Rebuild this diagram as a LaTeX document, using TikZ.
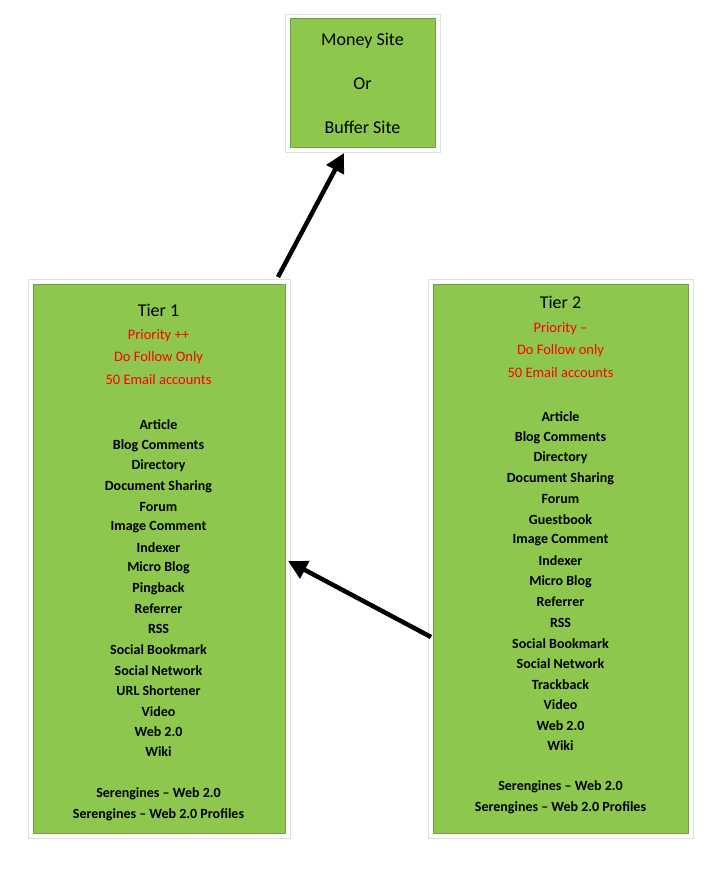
\documentclass[tikz,border=0pt]{standalone}
\usepackage{fontspec}
\setmainfont{Carlito}
\usetikzlibrary{arrows.meta}
\definecolor{boxgreen}{HTML}{8DC74E}
\definecolor{edgegreen}{HTML}{6FA33A}
\definecolor{txtred}{HTML}{FF0000}
\tikzset{
  tierbox/.style={draw=edgegreen,line width=1pt,fill=boxgreen},
  frame/.style={draw=gray!25,line width=0.6pt,fill=white},
  item/.style={font=\fontsize{14}{16}\selectfont\bfseries,inner sep=0pt},
  head/.style={font=\fontsize{18}{20}\selectfont,inner sep=0pt},
  note/.style={font=\fontsize{14.5}{16}\selectfont,text=txtred,inner sep=0pt},
  link/.style={line width=4.5pt,-{Triangle[length=19pt,width=19pt]}}
}
\begin{document}
\begin{tikzpicture}[x=1pt,y=-1pt]
        \useasboundingbox[fill=white] (0,0) rectangle (713,872);
        %! --- Money site ---
        \draw[frame] (285,14) rectangle (440,152);
        \draw[tierbox] (290,19) rectangle (435,147);
        \node[head] (money) at (362.5,41) {Money Site};
        \node[head] (or) at (362.5,84) {Or};
        \node[head] (buffer) at (362.5,127) {Buffer Site};
        %! --- Tier 1 ---
        \draw[frame] (28,279) rectangle (290,838);
        \draw[tierbox] (33,284) rectangle (285,833);
        \node[head] (t1) at (158.5,310) {Tier 1};
        \foreach \i/\t in {0/Priority ++,1/Do Follow Only,2/50 Email accounts} {
            \node[note] (t1n\i) at (158.5,336+22*\i) {\t};
        }
        \foreach \t [count=\i from 0] in {Article,Blog Comments,Directory,Document Sharing,Forum,Image Comment,Indexer,Micro Blog,Pingback,Referrer,RSS,Social Bookmark,Social Network,URL Shortener,Video,Web 2.0,Wiki} {
            \node[item] (t1i\i) at (158.5,425+20.44*\i) {\t};
        }
        \node[item] (t1s1) at (158.5,794) {Serengines -- Web 2.0};
        \node[item] (t1s2) at (158.5,815) {Serengines -- Web 2.0 Profiles};
        %! --- Tier 2 ---
        \draw[frame] (428,279) rectangle (693,838);
        \draw[tierbox] (433,284) rectangle (688,833);
        \node[head] (t2) at (560.5,302) {Tier 2};
        \foreach \i/\t in {0/Priority --,1/Do Follow only,2/50 Email accounts} {
            \node[note] (t2n\i) at (560.5,329+22*\i) {\t};
        }
        \foreach \t [count=\i from 0] in {Article,Blog Comments,Directory,Document Sharing,Forum,Guestbook,Image Comment,Indexer,Micro Blog,Referrer,RSS,Social Bookmark,Social Network,Trackback,Video,Web 2.0,Wiki} {
            \node[item] (t2i\i) at (560.5,417+20.56*\i) {\t};
        }
        \node[item] (t2s1) at (560.5,787) {Serengines -- Web 2.0};
        \node[item] (t2s2) at (560.5,808) {Serengines -- Web 2.0 Profiles};
        % Arrows
        \coordinate (t1top) at (278,277);
        \coordinate (moneybot) at (344,153);
        \coordinate (t2left) at (431,637);
        \coordinate (t1right) at (288,561);
        \draw[link] (t1top) -- (moneybot);
        \draw[link] (t2left) -- (t1right);
    \end{tikzpicture}
\end{document}
